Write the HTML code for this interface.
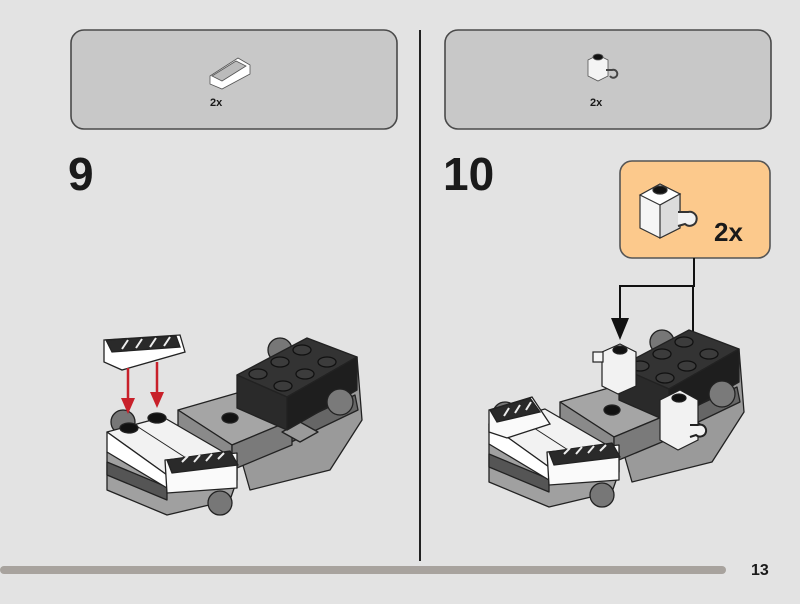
<!DOCTYPE html>
<html><head><meta charset="utf-8"><style>
html,body{margin:0;padding:0;background:#e3e3e3;}
svg{display:block;}
text{font-family:"Liberation Sans",sans-serif;font-weight:bold;fill:#1a1a1a;}
</style></head><body>
<svg width="800" height="604" viewBox="0 0 800 604" xmlns="http://www.w3.org/2000/svg">
<rect width="800" height="604" fill="#e3e3e3"/>
<rect x="71" y="30" width="326" height="99" rx="13" fill="#c8c8c8" stroke="#4a4a4a" stroke-width="1.6"/>
<rect x="445" y="30" width="326" height="99" rx="13" fill="#c8c8c8" stroke="#4a4a4a" stroke-width="1.6"/>
<line x1="420" y1="30" x2="420" y2="561" stroke="#222" stroke-width="2"/>
<rect x="0" y="566" width="726" height="8" rx="4" fill="#a8a39e"/>
<text x="751" y="575" font-size="16">13</text>
<text x="68" y="190" font-size="46">9</text>
<text x="443" y="190" font-size="46">10</text>
<!-- small slope icon -->
<g stroke="#555" stroke-width="0.8">
<polygon points="210,76 238,58 250,65 250,74 222,89 210,84" fill="#fff"/>
<polygon points="212,76 236,61 246,66 222,81" fill="#bbb"/>
</g>
<text x="210" y="106" font-size="11">2x</text>
<!-- small clip brick icon -->
<g stroke="#555" stroke-width="0.8">
<polygon points="588,60 598,55 608,60 608,76 598,81 588,76" fill="#f4f4f4"/>
<ellipse cx="598" cy="57" rx="5" ry="3" fill="#111"/>
<path d="M606,70 h6 a4,4 0 1 1 -2,6" fill="none" stroke="#444" stroke-width="2"/>
</g>
<text x="590" y="106" font-size="11">2x</text>
<!-- orange callout -->
<rect x="620" y="161" width="150" height="97" rx="12" fill="#fcc98c" stroke="#555" stroke-width="1.6"/>
<g stroke="#333" stroke-width="1.2">
<polygon points="640,195 660,184 680,194 680,228 660,238 640,228" fill="#f5f5f5"/>
<polygon points="640,195 660,184 680,194 660,205" fill="#fff"/>
<polygon points="660,205 680,194 680,228 660,238" fill="#dcdcdc"/>
<ellipse cx="660" cy="190" rx="7" ry="4" fill="#111"/>
<path d="M678,212 h10 a7,7 0 1 1 -3,12 l-7,2" fill="#f2f2f2" stroke="#333" stroke-width="2"/>
</g>
<text x="714" y="241" font-size="26">2x</text>
<g stroke="#111" stroke-width="2" fill="none">
<polyline points="694,258 694,286 620,286 620,325"/>
<line x1="693" y1="286" x2="693" y2="378"/>
</g>
<polygon points="611,318 629,318 620,340" fill="#111"/>
<polygon points="684,370 702,370 693,392" fill="#111"/>

<defs>
<g id="model" stroke="#222" stroke-width="1.3" stroke-linejoin="round">
  <circle cx="123" cy="422" r="12" fill="#777"/>
  <circle cx="280" cy="350" r="12" fill="#777"/>
  <polygon points="287,397 357,357 362,420 330,470 250,490 240,455" fill="#9a9a9a"/>
  <polygon points="280,430 355,395 358,410 285,445" fill="#666"/>
  <polygon points="178,410 237,393 292,420 232,445" fill="#a5a5a5"/>
  <polygon points="178,410 232,445 232,470 178,440" fill="#8a8a8a"/>
  <polygon points="232,445 292,420 292,445 232,470" fill="#7a7a7a"/>
  <ellipse cx="230" cy="418" rx="8" ry="5" fill="#111"/>
  <polygon points="282,432 300,422 318,432 300,442" fill="#9a9a9a"/>
  <polygon points="237,375 307,338 357,357 287,397" fill="#333"/>
  <polygon points="237,375 287,397 287,430 237,408" fill="#2a2a2a"/>
  <polygon points="287,397 357,357 357,390 287,430" fill="#1e1e1e"/>
  <g fill="#3c3c3c" stroke="#111">
    <ellipse cx="258" cy="374" rx="9" ry="5"/><ellipse cx="280" cy="362" rx="9" ry="5"/><ellipse cx="302" cy="350" rx="9" ry="5"/>
    <ellipse cx="283" cy="386" rx="9" ry="5"/><ellipse cx="305" cy="374" rx="9" ry="5"/><ellipse cx="327" cy="362" rx="9" ry="5"/>
  </g>
  <circle cx="340" cy="402" r="13" fill="#7a7a7a"/>
  <polygon points="107,452 167,475 237,460 237,480 230,500 167,515 107,490" fill="#a0a0a0"/>
  <polygon points="107,462 167,487 167,500 107,475" fill="#555"/>
  <polygon points="107,432 163,417 237,460 167,475" fill="#f2f2f2"/>
  <polygon points="107,432 167,475 167,488 107,452" fill="#fff"/>
  <line x1="135" y1="425" x2="200" y2="467" stroke-width="1"/>
  <polygon points="165,460 237,453 237,488 167,493" fill="#fafafa"/>
  <polygon points="167,460 230,451 238,465 172,473" fill="#2a2a2a"/>
  <g stroke="#eee" stroke-width="2"><line x1="182" y1="462" x2="188" y2="456"/><line x1="194" y1="462" x2="200" y2="455"/><line x1="206" y1="461" x2="212" y2="454"/><line x1="218" y1="459" x2="224" y2="453"/></g>
  <circle cx="220" cy="503" r="12" fill="#777"/>
</g>
</defs>

<use href="#model"/>
<g stroke="#222" stroke-width="1.3">
<ellipse cx="129" cy="428" rx="9" ry="5" fill="#111"/>
<ellipse cx="157" cy="418" rx="9" ry="5" fill="#111"/>
<polygon points="104,340 180,335 185,352 122,370 104,362" fill="#fff"/>
<polygon points="106,340 176,336 180,347 112,352" fill="#2a2a2a"/>
</g>
<g stroke="#eee" stroke-width="2"><line x1="122" y1="349" x2="128" y2="340"/><line x1="136" y1="348" x2="142" y2="339"/><line x1="150" y1="347" x2="156" y2="338"/><line x1="164" y1="346" x2="170" y2="337"/></g>
<g stroke="#c8202a" stroke-width="2.5"><line x1="128" y1="368" x2="128" y2="402"/><line x1="157" y1="362" x2="157" y2="395"/></g>
<polygon points="121,398 135,398 128,414" fill="#c8202a"/>
<polygon points="150,392 164,392 157,408" fill="#c8202a"/>

<g transform="translate(382,-8)"><use href="#model"/>
<g stroke="#222" stroke-width="1.3">
<polygon points="107,418 150,405 168,432 125,446 107,440" fill="#fafafa"/>
<polygon points="108,418 148,406 158,420 115,430" fill="#2a2a2a"/>
</g>
<g stroke="#eee" stroke-width="2"><line x1="122" y1="424" x2="127" y2="416"/><line x1="133" y1="421" x2="138" y2="413"/><line x1="144" y1="418" x2="149" y2="410"/></g>
</g>
<g stroke="#222" stroke-width="1.2">
<polygon points="602,352 620,344 636,352 636,386 618,394 602,386" fill="#f2f2f2"/>
<ellipse cx="620" cy="350" rx="7" ry="4" fill="#111"/>
<rect x="593" y="352" width="10" height="10" fill="#f5f5f5"/>
<polygon points="660,400 680,390 698,400 698,440 678,450 660,440" fill="#f2f2f2"/>
<ellipse cx="679" cy="398" rx="7" ry="4" fill="#111"/>
<path d="M690,425 h8 a6,6 0 1 1 -2,10 l-6,2" fill="#f2f2f2" stroke-width="2"/>
</g>
</svg>
</body></html>
